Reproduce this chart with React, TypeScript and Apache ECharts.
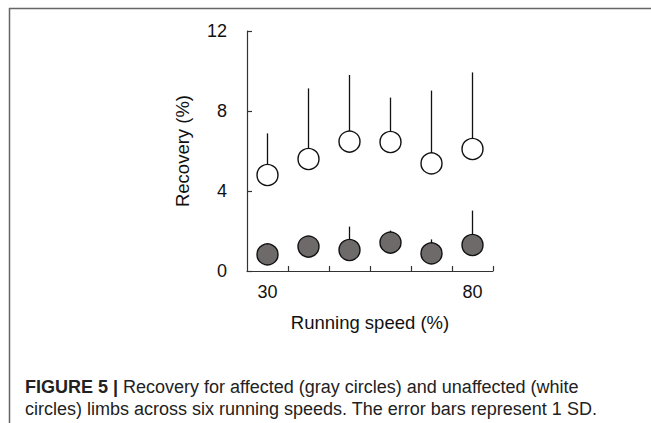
import React, { useEffect, useRef } from "react";
import * as echarts from "echarts";

const speeds = [30, 40, 50, 60, 70, 80];
const unaffectedMean = [4.8, 5.6, 6.47, 6.45, 5.38, 6.1];
const unaffectedSD = [2.08, 3.53, 3.33, 2.22, 3.64, 3.83];
const affectedMean = [0.83, 1.22, 1.05, 1.42, 0.88, 1.3];
const affectedSD = [0.3, 0.35, 1.17, 0.6, 0.7, 1.72];
const xTickValues = [35, 45, 55, 65, 75, 85];
const xLabelValues = [30, 80];

const FONT = "'Liberation Sans', Arial, Helvetica, sans-serif";

export default function App() {
  const ref = useRef<HTMLDivElement>(null);
  useEffect(() => {
    document.body.style.margin = "0";
    if (!ref.current) return;
    const chart = echarts.init(ref.current, null, { renderer: "svg" });
    const errSeries = (mean: number[], sd: number[]) => ({
      type: "custom",
      z: 2,
      data: speeds.map((s, i) => [s, mean[i], sd[i]]),
      encode: { x: 0, y: 1 },
      renderItem: (params: any, api: any) => {
        const x = api.value(0);
        const m = api.value(1);
        const d = api.value(2);
        const p0 = api.coord([x, m]);
        const p1 = api.coord([x, m + d]);
        return {
          type: "line",
          shape: { x1: p0[0], y1: p0[1], x2: p1[0], y2: p1[1] },
          style: { stroke: "#111", lineWidth: 1.3 },
        };
      },
    });
    chart.setOption({
      animation: false,
      textStyle: { fontFamily: FONT },
      grid: { left: 247, top: 31, width: 246, height: 240 },
      xAxis: {
        type: "value",
        min: 25,
        max: 85,
        name: "Running speed (%)",
        nameLocation: "middle",
        nameGap: 42,
        nameTextStyle: { fontSize: 18.5, color: "#111", fontFamily: FONT },
        axisLine: { show: true, lineStyle: { color: "#333", width: 1.2 } },
        axisTick: {
          show: true,
          inside: true,
          length: 5,
          customValues: xTickValues,
          lineStyle: { color: "#333", width: 1.2 },
        },
        axisLabel: {
          customValues: xLabelValues,
          fontSize: 18,
          margin: 12,
          color: "#111",
          fontFamily: FONT,
        },
        splitLine: { show: false },
      },
      yAxis: {
        type: "value",
        min: 0,
        max: 12,
        interval: 4,
        name: "Recovery (%)",
        nameLocation: "middle",
        nameGap: 55,
        nameTextStyle: { fontSize: 18.5, color: "#111", fontFamily: FONT },
        axisLine: { show: true, lineStyle: { color: "#333", width: 1.2 } },
        axisTick: { show: true, inside: true, length: 5, lineStyle: { color: "#333", width: 1.2 } },
        axisLabel: { fontSize: 18, margin: 20, color: "#111", fontFamily: FONT },
        splitLine: { show: false },
      },
      series: [
        errSeries(unaffectedMean, unaffectedSD),
        errSeries(affectedMean, affectedSD),
        {
          type: "scatter",
          z: 3,
          symbol: "circle",
          symbolSize: 21,
          data: speeds.map((s, i) => [s, unaffectedMean[i]]),
          itemStyle: { color: "#ffffff", borderColor: "#111", borderWidth: 1.4, opacity: 1 },
        },
        {
          type: "scatter",
          z: 3,
          symbol: "circle",
          symbolSize: 21,
          data: speeds.map((s, i) => [s, affectedMean[i]]),
          itemStyle: { color: "#6f6a6a", borderColor: "#111", borderWidth: 1.4, opacity: 1 },
        },
      ],
      graphic: [
        {
          type: "line",
          shape: { x1: 9, y1: 8.5, x2: 651, y2: 8.5 },
          style: { stroke: "#666", lineWidth: 1.5 },
        },
        {
          type: "line",
          shape: { x1: 9.5, y1: 8, x2: 9.5, y2: 423 },
          style: { stroke: "#666", lineWidth: 1.5 },
        },
        {
          type: "text",
          x: 25,
          y: 376,
          style: {
            text:
              "{b|FIGURE 5 |} Recovery for affected (gray circles) and unaffected (white\ncircles) limbs across six running speeds. The error bars represent 1 SD.",
            fontSize: 18,
            lineHeight: 22,
            fontFamily: FONT,
            fill: "#222",
            verticalAlign: "top",
            rich: {
              b: { fontWeight: "bold", fontSize: 18, lineHeight: 22, fontFamily: FONT, fill: "#222" },
            },
          },
        },
      ],
    });
    return () => chart.dispose();
  }, []);
  return <div ref={ref} style={{ width: 651, height: 423 }} />;
}
